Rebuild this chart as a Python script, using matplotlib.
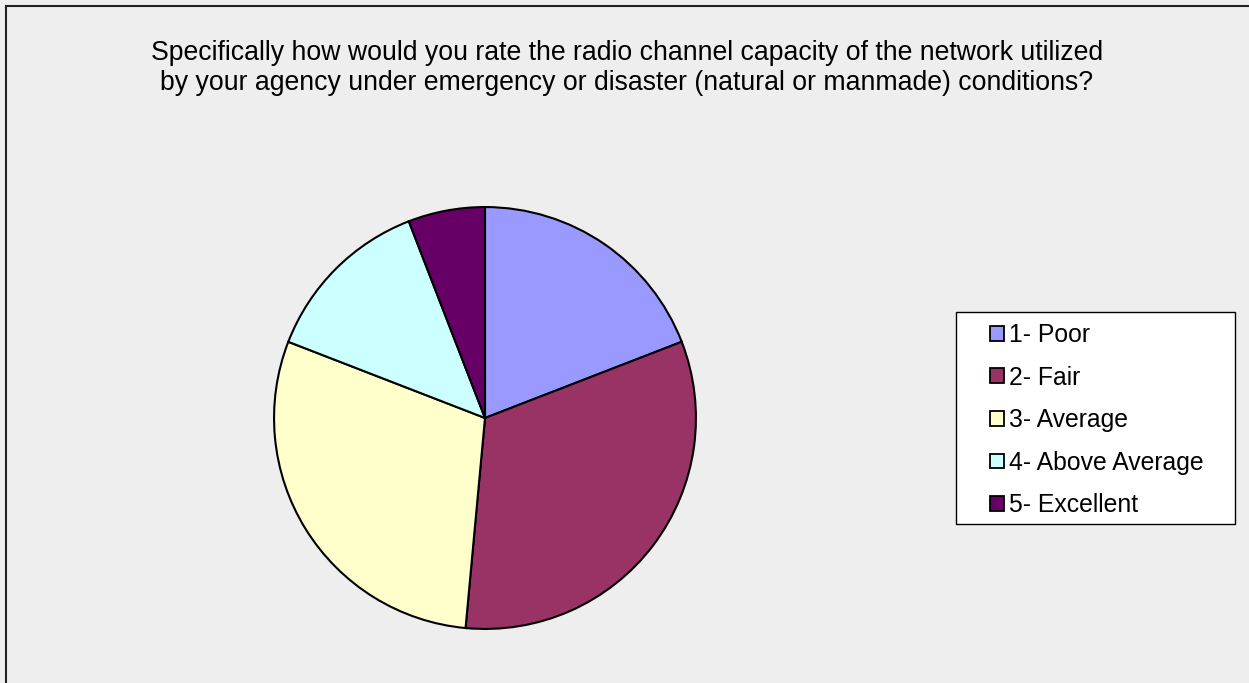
import matplotlib
matplotlib.use("Agg")
import matplotlib.pyplot as plt
from matplotlib.patches import Rectangle, Patch

plt.rcParams['font.family'] = ['Liberation Sans', 'DejaVu Sans']

categories = ["1- Poor", "2- Fair", "3- Average", "4- Above Average", "5- Excellent"]
counts = [13, 22, 20, 9, 4]
colors = ["#9999FF", "#993366", "#FFFFCC", "#CCFFFF", "#660066"]
title = ("Specifically how would you rate the radio channel capacity of the network utilized\n"
         "by your agency under emergency or disaster (natural or manmade) conditions?")

W, H = 1249, 683
fig = plt.figure(figsize=(W / 100, H / 100), dpi=100)
fig.patch.set_facecolor("#EEEEEE")

# chart-area frame (left and top edges visible)
fig.patches.append(Rectangle((6 / W, -0.01), 1.02, 1 - 6 / H + 0.01,
                             transform=fig.transFigure, fill=False,
                             edgecolor="#222222", linewidth=1.5))

fig.text(627 / W, 1 - 68 / H, title, ha="center", va="center",
         fontsize=19.2, linespacing=1.24, color="black")

cx, cy, r = 485, 418, 212
ax = fig.add_axes([(cx - r) / W, 1 - (cy + r) / H, 2 * r / W, 2 * r / H])
ax.set_facecolor("none")
ax.pie(counts, colors=colors, startangle=90, counterclock=False,
       radius=1.0, wedgeprops=dict(edgecolor="black", linewidth=1.5))
ax.set_xlim(-1.005, 1.005)
ax.set_ylim(-1.005, 1.005)
ax.set_aspect("equal")
ax.axis("off")

# legend box drawn separately to get the wider side margins
fig.patches.append(Rectangle((956 / W, 1 - 524 / H), (1235 - 956) / W, (524 - 312) / H,
                             transform=fig.transFigure, facecolor="white",
                             edgecolor="black", linewidth=1.0, zorder=2))

handles = [Patch(facecolor=c, edgecolor="black", linewidth=1.3) for c in colors]
leg = fig.legend(handles, categories, loc="upper left",
                 bbox_to_anchor=(979 / W, 1 - 312 / H),
                 frameon=False, fontsize=17.8,
                 handlelength=0.55, handleheight=0.55, handletextpad=0.2,
                 labelspacing=0.75, borderpad=0.45, borderaxespad=0)
leg.set_zorder(3)

fig.savefig("out.png", dpi=100, facecolor=fig.get_facecolor())
